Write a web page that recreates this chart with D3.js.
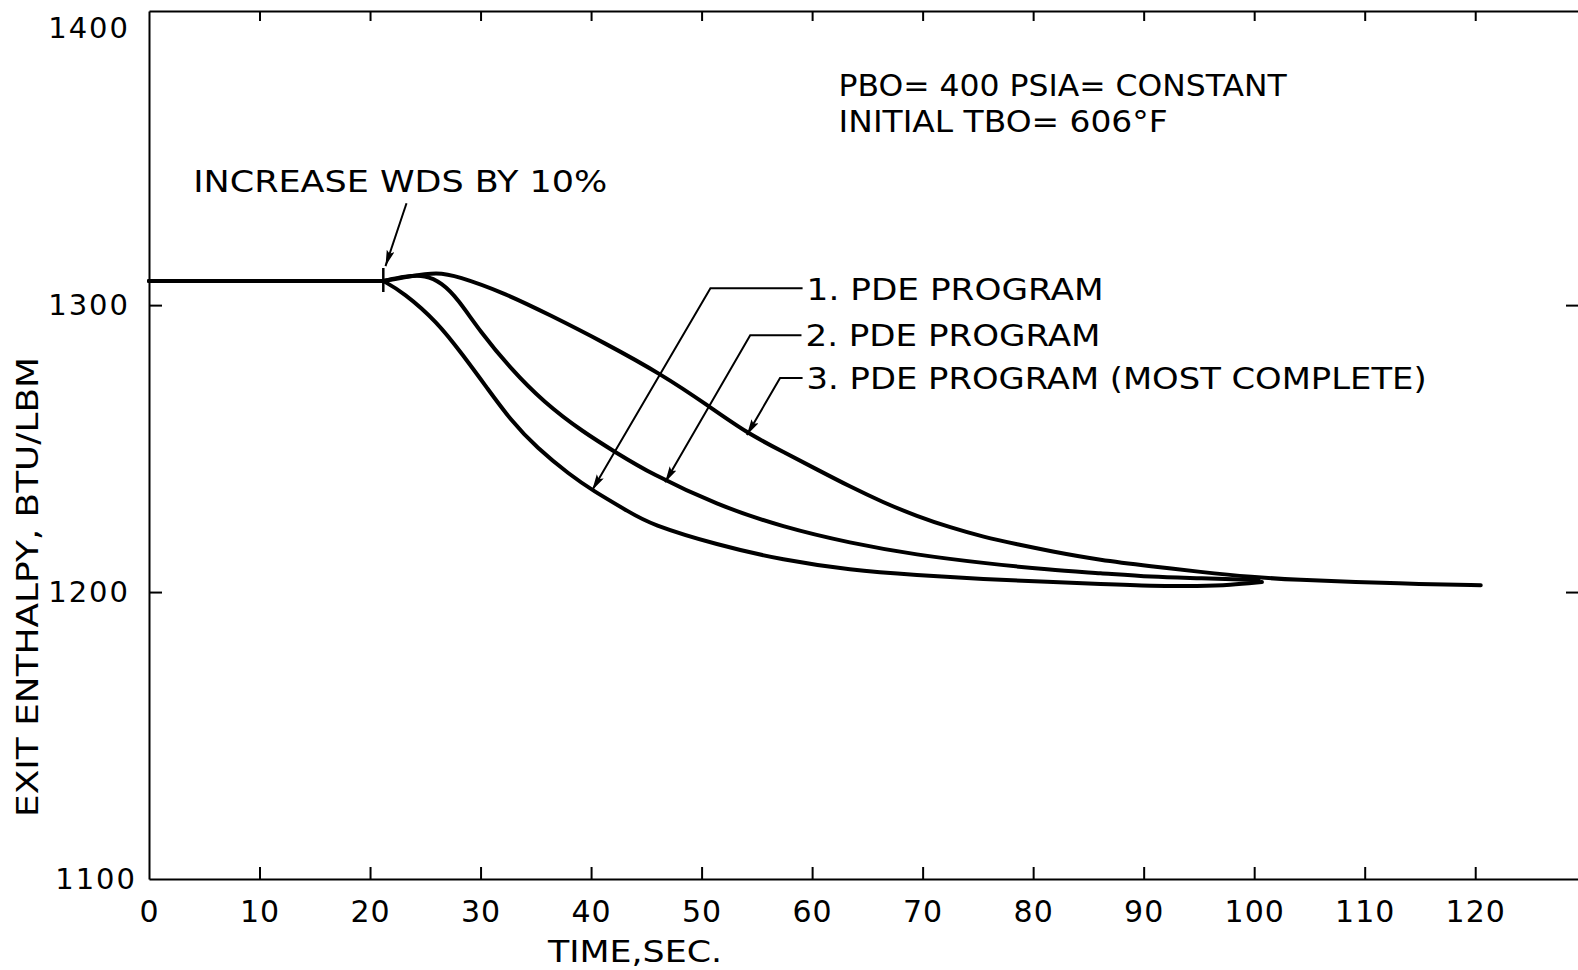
<!DOCTYPE html>
<html>
<head>
<meta charset="utf-8">
<script src="https://cdn.jsdelivr.net/npm/d3@7/dist/d3.min.js"></script>
<style>
  body { margin: 0; background: #fff; }
  svg text { font-family: "DejaVu Sans", sans-serif; fill: #000; }
  .axis path, .axis line { stroke: #000; stroke-width: 2; }
</style>
</head>
<body>
<svg id="chart" width="1578" height="970"></svg>
<script>
var timeTicks = [0, 10, 20, 30, 40, 50, 60, 70, 80, 90, 100, 110, 120];
var enthalpyTicks = [1100, 1200, 1300, 1400];

// curve 1 (lowest)
var pde1Time = [0, 21.2, 23.0, 26.1, 28.4, 30.6, 32.7, 35.1, 38.1, 40.1, 43.5, 45.3, 51.4, 57.4, 63.4, 69.5, 75.5, 81.5, 86.1, 90.7, 95.1, 97.8, 100.7];
var pde1Enthalpy = [1308.4, 1308.4, 1304.5, 1294.1, 1282.6, 1271.1, 1260.0, 1250.2, 1240.8, 1235.5, 1227.8, 1223.7, 1216.4, 1211.1, 1207.7, 1205.9, 1204.5, 1203.5, 1202.8, 1202.1, 1202.1, 1202.4, 1203.5];

// curve 2
var pde2Time = [0, 21.2, 23.2, 25.0, 26.5, 27.9, 30.0, 32.7, 35.7, 39.3, 42.4, 45.3, 51.4, 57.4, 63.4, 69.5, 75.5, 81.5, 86.1, 90.7, 95.1, 100.4];
var pde2Enthalpy = [1308.4, 1308.4, 1310.1, 1310.5, 1307.7, 1302.4, 1290.6, 1278.0, 1266.2, 1255.7, 1248.3, 1241.5, 1230.3, 1222.6, 1217.1, 1212.9, 1210.1, 1207.7, 1206.6, 1205.2, 1204.9, 1204.2];

// curve 3 (most complete)
var pde3Time = [0, 21.2, 23.5, 26.1, 27.9, 32.0, 36.3, 41.1, 46.5, 50.5, 54.1, 57.4, 60.5, 63.4, 66.4, 69.5, 72.5, 75.5, 78.6, 81.5, 86.1, 90.7, 95.1, 99.8, 104.1, 109.0, 115.0, 120.5];
var pde3Enthalpy = [1308.4, 1308.4, 1310.0, 1311.5, 1310.1, 1304.5, 1296.5, 1287.1, 1275.6, 1265.2, 1255.4, 1248.8, 1242.6, 1236.8, 1231.3, 1226.4, 1222.5, 1219.2, 1216.6, 1214.3, 1211.1, 1209.0, 1207.0, 1205.2, 1204.2, 1203.5, 1202.8, 1202.4];

var stepTime = 21.2, stepEnthalpy = 1308.4;

var seriesLabels = ["1. PDE  PROGRAM", "2. PDE  PROGRAM", "3. PDE  PROGRAM (MOST  COMPLETE)"];
// leader: tip (on curve), elbow, label position — all in data units
var leaderTip = [[40.1, 1235.5], [46.7, 1238.3], [54.1, 1254.7]];
var leaderElbow = [[50.8, 1305.9], [54.4, 1289.5], [57.1, 1274.6]];
var labelPos = [[59.5, 1305.6], [59.4, 1289.5], [59.5, 1274.6]];
var labelWidth = [297, 295, 620];

var svg = d3.select("#chart");
var x = d3.scaleLinear().domain([0, 129.3]).range([149, 1578]);
var y = d3.scaleLinear().domain([1100, 1402.5]).range([879, 11]);

svg.append("defs").append("marker")
  .attr("id", "arrow")
  .attr("markerUnits", "userSpaceOnUse")
  .attr("markerWidth", 18).attr("markerHeight", 10)
  .attr("refX", 16).attr("refY", 4)
  .attr("orient", "auto")
  .append("path")
  .attr("d", "M0,0 L16,4 L0,8 L3,4 Z")
  .attr("fill", "#000");

// axes
svg.append("g").attr("class", "axis")
  .attr("transform", "translate(0," + y.range()[0] + ")")
  .call(d3.axisBottom(x).tickValues(timeTicks).tickSizeInner(-12).tickSizeOuter(0).tickPadding(22))
  .call(function(g) {
    g.selectAll("text").attr("font-size", 30).attr("font-family", "DejaVu Sans").attr("letter-spacing", 1);
    g.selectAll(".tick").filter(function(d) { return d === 0; }).select("line").remove();
  });

svg.append("g").attr("class", "axis")
  .attr("transform", "translate(0," + y.range()[1] + ")")
  .call(d3.axisTop(x).tickValues(timeTicks.slice(1)).tickSizeInner(-10).tickSizeOuter(0).tickFormat(""));

svg.append("g").attr("class", "axis")
  .attr("transform", "translate(" + x(0) + ",0)")
  .call(d3.axisLeft(y).tickValues(enthalpyTicks).tickFormat(d3.format("d"))
        .tickSizeInner(-13).tickSizeOuter(0).tickPadding(19))
  .call(function(g) {
    g.selectAll("text").attr("font-size", 29).attr("font-family", "DejaVu Sans").attr("letter-spacing", 2);
    g.selectAll(".tick").filter(function(d) { return d === 1100 || d === 1400; }).select("line").remove();
    g.selectAll(".tick").filter(function(d) { return d === 1400; }).select("text").attr("dy", "0.65em");
    g.selectAll(".tick").filter(function(d) { return d === 1100; }).select("text").attr("dx", 7);
  });

svg.append("g").attr("class", "axis")
  .attr("transform", "translate(" + x.range()[1] + ",0)")
  .call(d3.axisRight(y).tickValues([1200, 1300]).tickSizeInner(-12).tickSizeOuter(0).tickFormat(""))
  .call(function(g) { g.select(".domain").remove(); });

// axis titles
svg.append("text")
  .attr("x", 548).attr("y", 951).attr("dy", "0.36em")
  .attr("font-size", 30).attr("textLength", 174).attr("lengthAdjust", "spacingAndGlyphs")
  .text("TIME,SEC.");

svg.append("text")
  .attr("transform", "translate(38,817) rotate(-90)")
  .attr("font-size", 30).attr("textLength", 460).attr("lengthAdjust", "spacingAndGlyphs")
  .text("EXIT  ENTHALPY, BTU/LBM");

// curves: straight steady-state part up to the step, smooth transient after it
var flatLine = d3.line()
  .x(function(d) { return x(d[0]); })
  .y(function(d) { return y(d[1]); });
var line = d3.line()
  .x(function(d) { return x(d[0]); })
  .y(function(d) { return y(d[1]); })
  .curve(d3.curveBasis);

[[pde1Time, pde1Enthalpy], [pde2Time, pde2Enthalpy], [pde3Time, pde3Enthalpy]].forEach(function(s) {
  var pts = d3.zip(s[0], s[1]);
  var before = pts.filter(function(d) { return d[0] <= stepTime; });
  var after = pts.filter(function(d) { return d[0] >= stepTime; });
  var d = flatLine(before) + line(after).replace(/^M/, "L");
  svg.append("path")
    .attr("d", d)
    .attr("fill", "none")
    .attr("stroke", "#000")
    .attr("stroke-width", 4)
    .attr("stroke-linejoin", "round")
    .attr("stroke-linecap", "round");
});

// step marker
svg.append("line")
  .attr("x1", x(stepTime)).attr("x2", x(stepTime))
  .attr("y1", y(stepEnthalpy) - 13).attr("y2", y(stepEnthalpy) + 11)
  .attr("stroke", "#000").attr("stroke-width", 2.5);

// annotations
svg.append("text")
  .attr("x", x(4.0)).attr("y", y(1343.2)).attr("dy", "0.36em")
  .attr("font-size", 31).attr("textLength", 414).attr("lengthAdjust", "spacingAndGlyphs")
  .text("INCREASE  WDS  BY  10%");
svg.append("line")
  .attr("x1", x(23.3)).attr("y1", y(1335.5))
  .attr("x2", x(21.4)).attr("y2", y(1313.6))
  .attr("stroke", "#000").attr("stroke-width", 2)
  .attr("marker-end", "url(#arrow)");

svg.append("text")
  .attr("x", x(62.4)).attr("y", y(1376.7)).attr("dy", "0.36em")
  .attr("font-size", 31).attr("textLength", 448).attr("lengthAdjust", "spacingAndGlyphs")
  .text("PBO= 400  PSIA= CONSTANT");
svg.append("text")
  .attr("x", x(62.4)).attr("y", y(1364.1)).attr("dy", "0.36em")
  .attr("font-size", 31).attr("textLength", 329).attr("lengthAdjust", "spacingAndGlyphs")
  .text("INITIAL  TBO= 606°F");

seriesLabels.forEach(function(label, i) {
  svg.append("path")
    .attr("d", "M" + (x(labelPos[i][0]) - 4) + "," + y(leaderElbow[i][1]) +
               "L" + x(leaderElbow[i][0]) + "," + y(leaderElbow[i][1]) +
               "L" + x(leaderTip[i][0]) + "," + y(leaderTip[i][1]))
    .attr("fill", "none")
    .attr("stroke", "#000").attr("stroke-width", 2)
    .attr("marker-end", "url(#arrow)");
  svg.append("text")
    .attr("x", x(labelPos[i][0])).attr("y", y(labelPos[i][1])).attr("dy", "0.36em")
    .attr("font-size", 31).attr("textLength", labelWidth[i]).attr("lengthAdjust", "spacingAndGlyphs")
    .text(label);
});
</script>
</body>
</html>
